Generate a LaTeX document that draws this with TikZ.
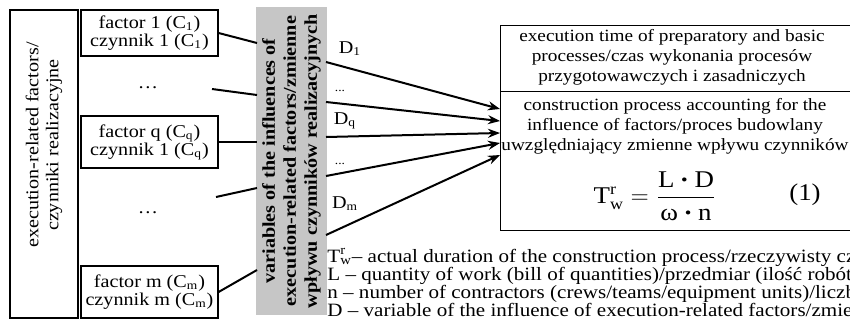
\documentclass[tikz,border=0pt]{standalone}
\usepackage{amsmath}
\usepackage{fontspec}
\setmainfont{Liberation Serif}[FakeStretch=1.12]
\usetikzlibrary{arrows.meta}

\newcommand{\Trw}{T\rlap{\textsuperscript{r}}\textsubscript{w}}
\newcommand{\dotop}{\raisebox{0.8pt}{\scalebox{0.7}{•}}}

\begin{document}
\begin{tikzpicture}[x=0.5pt,y=-0.5pt,>={Stealth[length=6pt,width=4.5pt]},
    every node/.style={font=\fontsize{9}{9}\selectfont},
    box/.style={draw,line width=0.6pt,inner sep=0pt},
    link/.style={line width=1pt},
    stack/.style={align=center,font=\fontsize{9}{10}\selectfont}]
    \useasboundingbox (0,0) rectangle (850,332);
    \clip (0,0) rectangle (850,332);

    % left column: group box and the factors
    \node[box,minimum width=34pt,minimum height=154pt] (grp) at (44,164) {};
    \node[stack,rotate=90] (grptxt) at (44,145)
        {execution-related factors/\\czynniki realizacyjne};
    \node[box,align=center,minimum width=68.5pt,minimum height=23pt] (f1) at (149.5,33)
        {factor 1 (C\textsubscript{1})\\czynnik 1 (C\textsubscript{1})};
    \node (dots1) at (148,88) {\dots};
    \node[box,align=center,minimum width=68.5pt,minimum height=26pt] (fq) at (149.5,142)
        {factor q (C\textsubscript{q})\\czynnik 1 (C\textsubscript{q})};
    \node (dots2) at (148,213) {\dots};
    \node[box,align=center,minimum width=68.5pt,minimum height=26pt] (fm) at (149.5,292)
        {factor m (C\textsubscript{m})\\czynnik m (C\textsubscript{m})};

    % gray band with the variables
    \node[fill=gray!45,rotate=90,align=center,minimum width=153pt,minimum height=34.5pt,
        font=\fontsize{9}{10.5}\selectfont\bfseries] (var) at (291.5,161)
        {variables of the influences of\\execution-related factors/zmienne\\wpływu czynników realizacyjnych};

    % right boxes
    \node[box,minimum width=180pt,minimum height=33pt,anchor=north west] (time) at (500,25) {};
    \node[box,minimum width=180pt,minimum height=69.5pt,anchor=north west] (proc) at (500,91) {};
    \node[stack,font=\fontsize{8.6}{10}\selectfont] (timetxt) at (672,57)
        {execution time of preparatory and basic\\processes/czas wykonania procesów\\przygotowawczych i zasadniczych};
    \node[stack,font=\fontsize{8.6}{10}\selectfont] (proctxt) at (675,126)
        {construction process accounting for the\\influence of factors/proces budowlany\\uwzględniający zmienne wpływu czynników};
    \node[font=\fontsize{12}{14}\selectfont] (eq) at (655,196)
        {$\text{T}^{\text{r}}_{\text{w}}=\dfrac{\text{L \dotop{} D}}{\text{ω \dotop{} n}}$};
    \node[font=\fontsize{12}{14}\selectfont] (eqno) at (805,195) {(1)};

    % legend
    \node[anchor=north west,align=left,inner sep=0pt,font=\fontsize{9.4}{9}\selectfont] (legend) at (327,248)
        {\Trw– actual duration of the construction process/rzeczywisty czas trwania\\
         L – quantity of work (bill of quantities)/przedmiar (ilość robót)\\
         n – number of contractors (crews/teams/equipment units)/liczba wykonawców\\
         D – variable of the influence of execution-related factors/zmienna wpływu};

    % ends of the connectors
    \coordinate (a1) at (257,43);
    \coordinate (a2) at (257,95);
    \coordinate (a3) at (257,138);
    \coordinate (a4) at (257,188);
    \coordinate (a5) at (257,270);
    \coordinate (c2) at (212,89);
    \coordinate (c4) at (216,197);
    \coordinate (s1) at (326,62);
    \coordinate (s2) at (326,102);
    \coordinate (s3) at (326,137);
    \coordinate (s4) at (326,176);
    \coordinate (s5) at (326,235);
    \coordinate (e1) at (500,109);
    \coordinate (e2) at (500,121);
    \coordinate (e3) at (500,133);
    \coordinate (e4) at (500,143);
    \coordinate (e5) at (500,155);

    \draw[link] (f1.east) -- (a1);
    \draw[link] (c2) -- (a2);
    \draw[link] (fq.east) -- (fq.east -| a3);
    \draw[link] (c4) -- (a4);
    \draw[link] (fm.east) -- (a5);

    \draw[link,->] (s1) -- (e1);
    \draw[link,->] (s2) -- (e2);
    \draw[link,->] (s3) -- (e3);
    \draw[link,->] (s4) -- (e4);
    \draw[link,->] (s5) -- (e5);

    % labels of the arrows
    \node (l1) at (350,49) {D\textsubscript{1}};
    \node[font=\fontsize{6}{6}\selectfont] (l2) at (340,91) {...};
    \node (l3) at (345,121) {D\textsubscript{q}};
    \node[font=\fontsize{6}{6}\selectfont] (l4) at (340,164) {...};
    \node (l5) at (345,204) {D\textsubscript{m}};
\end{tikzpicture}
\end{document}
